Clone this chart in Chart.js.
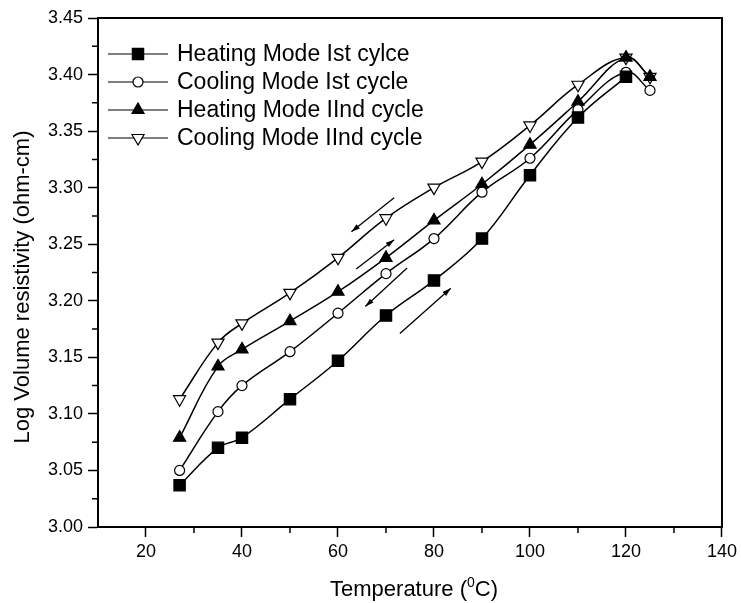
<!DOCTYPE html>
<html>
<head>
<meta charset="utf-8">
<script src="https://cdn.jsdelivr.net/npm/chart.js@4.4.1/dist/chart.umd.min.js"></script>
<style>
  html, body { margin: 0; padding: 0; background: #fff; }
  #wrap { width: 741px; height: 603px; }
</style>
</head>
<body>
<div id="wrap"><canvas id="chart" width="741" height="603"></canvas></div>
<script>
// temperatures (deg C) and log volume resistivity
var temps = [27, 35, 40, 50, 60, 70, 80, 90, 100, 110, 120, 125];
var heating1 = [3.037, 3.070, 3.079, 3.113, 3.147, 3.187, 3.218, 3.255, 3.311, 3.362, 3.398];
var cooling1 = [3.050, 3.102, 3.125, 3.155, 3.189, 3.224, 3.255, 3.296, 3.326, 3.369, 3.402, 3.386];
var heating2 = [3.079, 3.142, 3.157, 3.182, 3.208, 3.238, 3.271, 3.303, 3.338, 3.376, 3.415, 3.398];
var cooling2 = [3.113, 3.163, 3.180, 3.207, 3.238, 3.273, 3.300, 3.323, 3.355, 3.391, 3.415, 3.398];

var seriesNames = ['Heating Mode Ist cylce', 'Cooling Mode Ist cycle', 'Heating Mode IInd cycle', 'Cooling Mode IInd cycle'];

var xTicks = [20, 40, 60, 80, 100, 120, 140];
var yTicks = [3.00, 3.05, 3.10, 3.15, 3.20, 3.25, 3.30, 3.35, 3.40, 3.45];

// direction arrows, in data units: [x0, y0, x1, y1], head at x1/y1
var arrows = [
    [71.7, 3.291, 62.8, 3.261],
    [63.8, 3.228, 71.7, 3.254],
    [74.4, 3.229, 65.7, 3.195],
    [72.9, 3.171, 83.5, 3.211]
];

function toPoints(ys) {
    return ys.map(function (y, i) { return { x: temps[i], y: y }; });
}

var FONT = "'Liberation Sans', Arial, sans-serif";

function makeSet(label, ys, style, fill, radius, rotation) {
    return {
        label: label,
        data: toPoints(ys),
        borderColor: '#000',
        borderWidth: 1.5,
        tension: 0.4,
        pointStyle: style,
        pointRadius: radius,
        pointRotation: rotation || 0,
        pointBackgroundColor: fill,
        pointBorderColor: '#000',
        pointBorderWidth: 1.2,
        fill: false
    };
}

var datasets = [
    makeSet(seriesNames[0], heating1, 'rect', '#000', 8, 0),
    makeSet(seriesNames[1], cooling1, 'circle', '#fff', 5, 0),
    makeSet(seriesNames[2], heating2, 'triangle', '#000', 7, 0),
    makeSet(seriesNames[3], cooling2, 'triangle', '#fff', 7, 180)
];

var extras = {
    id: 'extras',
    afterDraw: function (chart) {
        var ctx = chart.ctx;
        var area = chart.chartArea;
        var xs = chart.scales.x, ys = chart.scales.y;
        ctx.save();

        // frame
        ctx.strokeStyle = '#000';
        ctx.lineWidth = 2;
        ctx.strokeRect(area.left, area.top, area.right - area.left, area.bottom - area.top);

        // minor ticks
        ctx.lineWidth = 1.5;
        ctx.beginPath();
        for (var v = 30; v < 140; v += 20) {
            var px = xs.getPixelForValue(v);
            ctx.moveTo(px, area.bottom);
            ctx.lineTo(px, area.bottom + 6);
        }
        for (var k = 0; k < yTicks.length - 1; k++) {
            var py = ys.getPixelForValue(yTicks[k] + 0.025);
            ctx.moveTo(area.left, py);
            ctx.lineTo(area.left - 6, py);
        }
        ctx.stroke();

        // arrows
        ctx.lineWidth = 1.3;
        arrows.forEach(function (a) {
            var x0 = xs.getPixelForValue(a[0]), y0 = ys.getPixelForValue(a[1]);
            var x1 = xs.getPixelForValue(a[2]), y1 = ys.getPixelForValue(a[3]);
            var ang = Math.atan2(y1 - y0, x1 - x0);
            ctx.beginPath();
            ctx.moveTo(x0, y0);
            ctx.lineTo(x1, y1);
            ctx.stroke();
            ctx.beginPath();
            ctx.moveTo(x1, y1);
            ctx.lineTo(x1 - 9 * Math.cos(ang - 0.3), y1 - 9 * Math.sin(ang - 0.3));
            ctx.lineTo(x1 - 9 * Math.cos(ang + 0.3), y1 - 9 * Math.sin(ang + 0.3));
            ctx.closePath();
            ctx.fillStyle = '#000';
            ctx.fill();
        });

        // legend
        var rows = [54, 82, 110, 138];
        chart.data.datasets.forEach(function (ds, i) {
            var y = rows[i];
            ctx.strokeStyle = '#000';
            ctx.lineWidth = 1.2;
            ctx.beginPath();
            ctx.moveTo(108, y);
            ctx.lineTo(168, y);
            ctx.stroke();
            ctx.fillStyle = ds.pointBackgroundColor;
            ctx.strokeStyle = '#000';
            ctx.lineWidth = 1.2;
            Chart.helpers.drawPoint(ctx, {
                pointStyle: ds.pointStyle,
                radius: ds.pointRadius,
                rotation: ds.pointRotation,
                borderWidth: 1.2
            }, 138, y);
            ctx.fillStyle = '#000';
            ctx.font = '23px ' + FONT;
            ctx.textBaseline = 'middle';
            ctx.textAlign = 'left';
            ctx.fillText(ds.label, 177, y + 1);
        });

        // axis titles
        ctx.fillStyle = '#000';
        ctx.font = '22px ' + FONT;
        ctx.textBaseline = 'middle';
        ctx.save();
        ctx.translate(23, 287);
        ctx.rotate(-Math.PI / 2);
        ctx.textAlign = 'center';
        ctx.fillText('Log Volume resistivity (ohm-cm)', 0, 0);
        ctx.restore();

        var p1 = 'Temperature (', sup = '0', p2 = 'C)';
        ctx.font = '22px ' + FONT;
        var w1 = ctx.measureText(p1).width, w2 = ctx.measureText(p2).width;
        ctx.font = '14px ' + FONT;
        var ws = ctx.measureText(sup).width;
        var x = 414 - (w1 + ws + w2) / 2;
        ctx.textAlign = 'left';
        ctx.font = '22px ' + FONT;
        ctx.fillText(p1, x, 590);
        ctx.font = '14px ' + FONT;
        ctx.fillText(sup, x + w1, 583);
        ctx.font = '22px ' + FONT;
        ctx.fillText(p2, x + w1 + ws, 590);
        ctx.restore();
    }
};

new Chart(document.getElementById('chart').getContext('2d'), {
    type: 'line',
    data: { datasets: datasets },
    options: {
        responsive: false,
        animation: false,
        layout: { padding: { top: 18, right: 15, left: 0, bottom: 0 } },
        plugins: {
            legend: { display: false },
            tooltip: { enabled: false }
        },
        scales: {
            x: {
                type: 'linear',
                min: 10,
                max: 140,
                afterBuildTicks: function (scale) {
                    scale.ticks = xTicks.map(function (v) { return { value: v }; });
                },
                afterFit: function (scale) { scale.height = 76; },
                grid: { drawOnChartArea: false, tickLength: 10, tickColor: '#000', tickWidth: 1.5 },
                border: { display: true, color: '#000', width: 2 },
                ticks: { color: '#000', padding: 4, maxRotation: 0, font: { family: FONT, size: 18 } }
            },
            y: {
                min: 3.0,
                max: 3.45,
                afterBuildTicks: function (scale) {
                    scale.ticks = yTicks.map(function (v) { return { value: v }; });
                },
                afterFit: function (scale) { scale.width = 98; },
                grid: { drawOnChartArea: false, tickLength: 10, tickColor: '#000', tickWidth: 1.5 },
                border: { display: true, color: '#000', width: 2 },
                ticks: {
                    color: '#000',
                    padding: 5,
                    font: { family: FONT, size: 18 },
                    callback: function (v) { return Number(v).toFixed(2); }
                }
            }
        }
    },
    plugins: [extras]
});
</script>
</body>
</html>
